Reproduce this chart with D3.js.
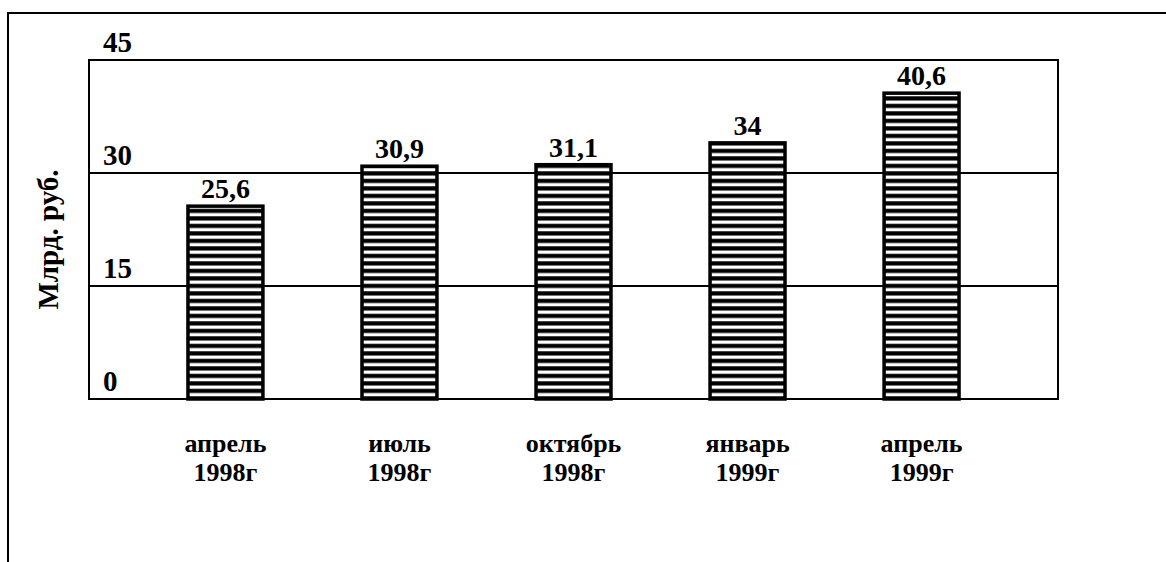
<!DOCTYPE html>
<html>
<head>
<meta charset="utf-8">
<script src="https://cdn.jsdelivr.net/npm/d3@7"></script>
<style>
  body { margin: 0; background: #fff; }
  text { font-family: "Liberation Serif", "Times New Roman", serif; font-weight: bold; fill: #000; }
</style>
</head>
<body>
<script>
// data
var periods = ["апрель|1998г", "июль|1998г", "октябрь|1998г", "январь|1999г", "апрель|1999г"];
var values = [25.6, 30.9, 31.1, 34, 40.6];
var valueLabels = ["25,6", "30,9", "31,1", "34", "40,6"];
var yTicks = [0, 15, 30, 45];
var yTitle = "Млрд. руб.";

var W = 1166, H = 562;
var svg = d3.select("body").append("svg").attr("width", W).attr("height", H);

// outer frame (top + left only visible)
svg.append("path")
    .attr("d", "M8,562V13H1166")
    .attr("fill", "none").attr("stroke", "#000").attr("stroke-width", 2);

var plot = {left: 89, top: 60, right: 1058, bottom: 399};

var x = d3.scaleBand().domain(d3.range(periods.length))
    .range([plot.left, plot.right]).paddingInner(0.552).paddingOuter(0.56);
var y = d3.scaleLinear().domain([0, 45]).range([plot.bottom, plot.top]);

// stripe pattern
var defs = svg.append("defs");
var pat = defs.append("pattern").attr("id", "stripes")
    .attr("patternUnits", "userSpaceOnUse")
    .attr("width", 10).attr("height", 7.5)
    .attr("y", plot.bottom);
pat.append("rect").attr("width", 10).attr("height", 7.5).attr("fill", "#000");
pat.append("rect").attr("y", 1.5).attr("width", 10).attr("height", 3.3).attr("fill", "#fff");

// plot frame
svg.append("rect")
    .attr("x", plot.left).attr("y", plot.top)
    .attr("width", plot.right - plot.left).attr("height", plot.bottom - plot.top)
    .attr("fill", "none").attr("stroke", "#000").attr("stroke-width", 2);

// gridlines
svg.append("g").selectAll("line")
    .data(yTicks.filter(function(d) { return d > 0 && d < 45; }))
    .join("line")
    .attr("x1", plot.left).attr("x2", plot.right)
    .attr("y1", function(d) { return y(d); }).attr("y2", function(d) { return y(d); })
    .attr("stroke", "#000").attr("stroke-width", 2);

// y tick labels above lines
svg.append("g").selectAll("text")
    .data(yTicks).join("text")
    .attr("x", 103)
    .attr("y", function(d) { return y(d) - 8; })
    .attr("font-size", 29)
    .text(function(d) { return d; });

// y title
svg.append("text")
    .attr("transform", "translate(58," + ((plot.top + plot.bottom) / 2 + 10) + ") rotate(-90)")
    .attr("text-anchor", "middle")
    .attr("font-size", 29)
    .text(yTitle);

// bars
svg.append("g").selectAll("rect")
    .data(values).join("rect")
    .attr("x", function(d, i) { return x(i) + 1.5; })
    .attr("y", function(d) { return y(d); })
    .attr("width", x.bandwidth() - 3)
    .attr("height", function(d) { return plot.bottom - y(d); })
    .attr("fill", "url(#stripes)")
    .attr("stroke", "#000").attr("stroke-width", 3.5);

// value labels
svg.append("g").selectAll("text")
    .data(values).join("text")
    .attr("x", function(d, i) { return x(i) + x.bandwidth() / 2; })
    .attr("y", function(d) { return y(d) - 8; })
    .attr("text-anchor", "middle")
    .attr("font-size", 28)
    .text(function(d, i) { return valueLabels[i]; });

// category labels (two lines each)
var catY = [452, 481];
var cat = svg.append("g");
periods.forEach(function(p, i) {
  p.split("|").forEach(function(s, j) {
    cat.append("text")
        .attr("x", x(i) + x.bandwidth() / 2)
        .attr("y", catY[j])
        .attr("text-anchor", "middle")
        .attr("font-size", 26)
        .text(s);
  });
});
</script>
</body>
</html>
